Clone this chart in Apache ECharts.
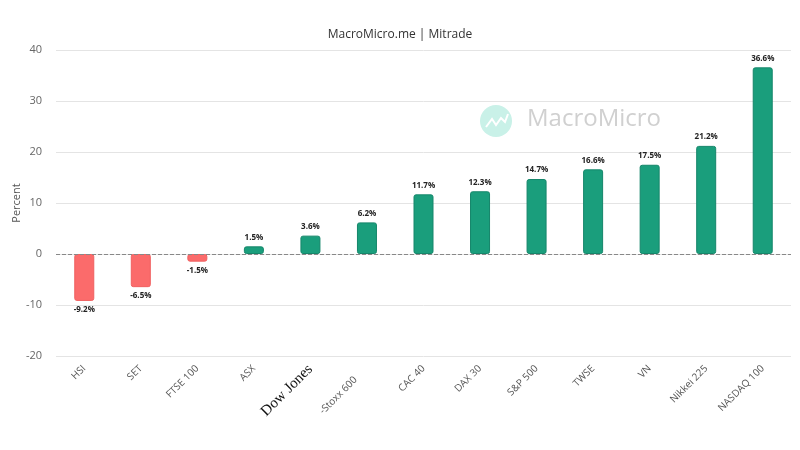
<!DOCTYPE html>
<html><head><meta charset="utf-8">
<script src="https://cdn.jsdelivr.net/npm/echarts@6/dist/echarts.min.js"></script>
<style>html,body{margin:0;padding:0;background:#fff}#c{width:800px;height:450px}</style>
</head><body><div id="c"></div>
<script>
var categories = ['HSI','SET','FTSE 100','ASX','Dow Jones','-Stoxx 600','CAC 40','DAX 30','S&P 500','TWSE','VN','Nikkei 225','NASDAQ 100'];
var values = [-9.2,-6.5,-1.5,1.5,3.6,6.2,11.7,12.3,14.7,16.6,17.5,21.2,36.6];
var yMin = -20, yMax = 40, yStep = 10;

var FONT = '"Open Sans", "Noto Sans", sans-serif';
var chart = echarts.init(document.getElementById('c'));
var catData = categories.map(function(c){
  if (c === 'Dow Jones') return {value:c, textStyle:{fontFamily:'"Liberation Serif", serif', fontSize:15, color:'#111'}};
  if (c === '-Stoxx 600') return {value:c, textStyle:{padding:[0,16,0,0]}};
  return c;
});
var barData = values.map(function(v){
  var pos = v >= 0;
  return {
    value: v,
    itemStyle: {color: pos ? '#1a9e7c' : '#fb6b6b', borderColor: pos ? '#15866a' : '#f06060', borderWidth: 1, borderRadius: 2},
    label: {position: pos ? 'top' : 'bottom'}
  };
});
chart.setOption({
  animation: false,
  title: {text:'MacroMicro.me | Mitrade', left:'center', top:24, textStyle:{fontFamily:FONT, fontSize:12, fontWeight:'normal', color:'#333'}},
  grid: {left:56, right:9, top:50, bottom:94, outerBoundsMode:'none', containLabel:false},
  graphic: [
    {type:'circle', shape:{cx:496, cy:121, r:16}, style:{fill:'#c9f1e8'}, z:-1},
    {type:'polyline', shape:{points:[[486,127],[492,119],[496,125],[501,118],[505,122],[508,114]]}, style:{stroke:'#fff', lineWidth:2, fill:null}, z:-1},
    {type:'text', left:527, top:107, style:{text:'MacroMicro', fontFamily:FONT, fontSize:24, fill:'#d0d0d0'}, z:-1}
  ],
  xAxis: {
    type:'category', data: catData,
    axisLine:{show:false}, axisTick:{show:false},
    axisLabel:{rotate:45, interval:0, fontFamily:FONT, fontSize:10, color:'#555', margin:11}
  },
  yAxis: {
    type:'value', min:yMin, max:yMax, interval:yStep,
    name:'Percent', nameLocation:'middle', nameGap:34, nameRotate:90, nameMoveOverlap:false,
    nameTextStyle:{fontFamily:FONT, fontSize:11, color:'#555'},
    axisLabel:{fontFamily:FONT, fontSize:11, color:'#666', margin:14},
    axisLine:{show:false}, axisTick:{show:false},
    splitLine:{lineStyle:{color:'#e4e4e4'}}
  },
  series: [{
    type:'bar', data: barData, barWidth:20,
    label:{show:true, formatter:'{c}%', fontFamily:FONT, fontSize:8, fontWeight:'bold', color:'#222', distance:5},
    markLine:{silent:true, symbol:'none', label:{show:false}, lineStyle:{type:'dashed', color:'#888', width:1}, data:[{yAxis:0}]}
  }]
});
</script></body></html>
